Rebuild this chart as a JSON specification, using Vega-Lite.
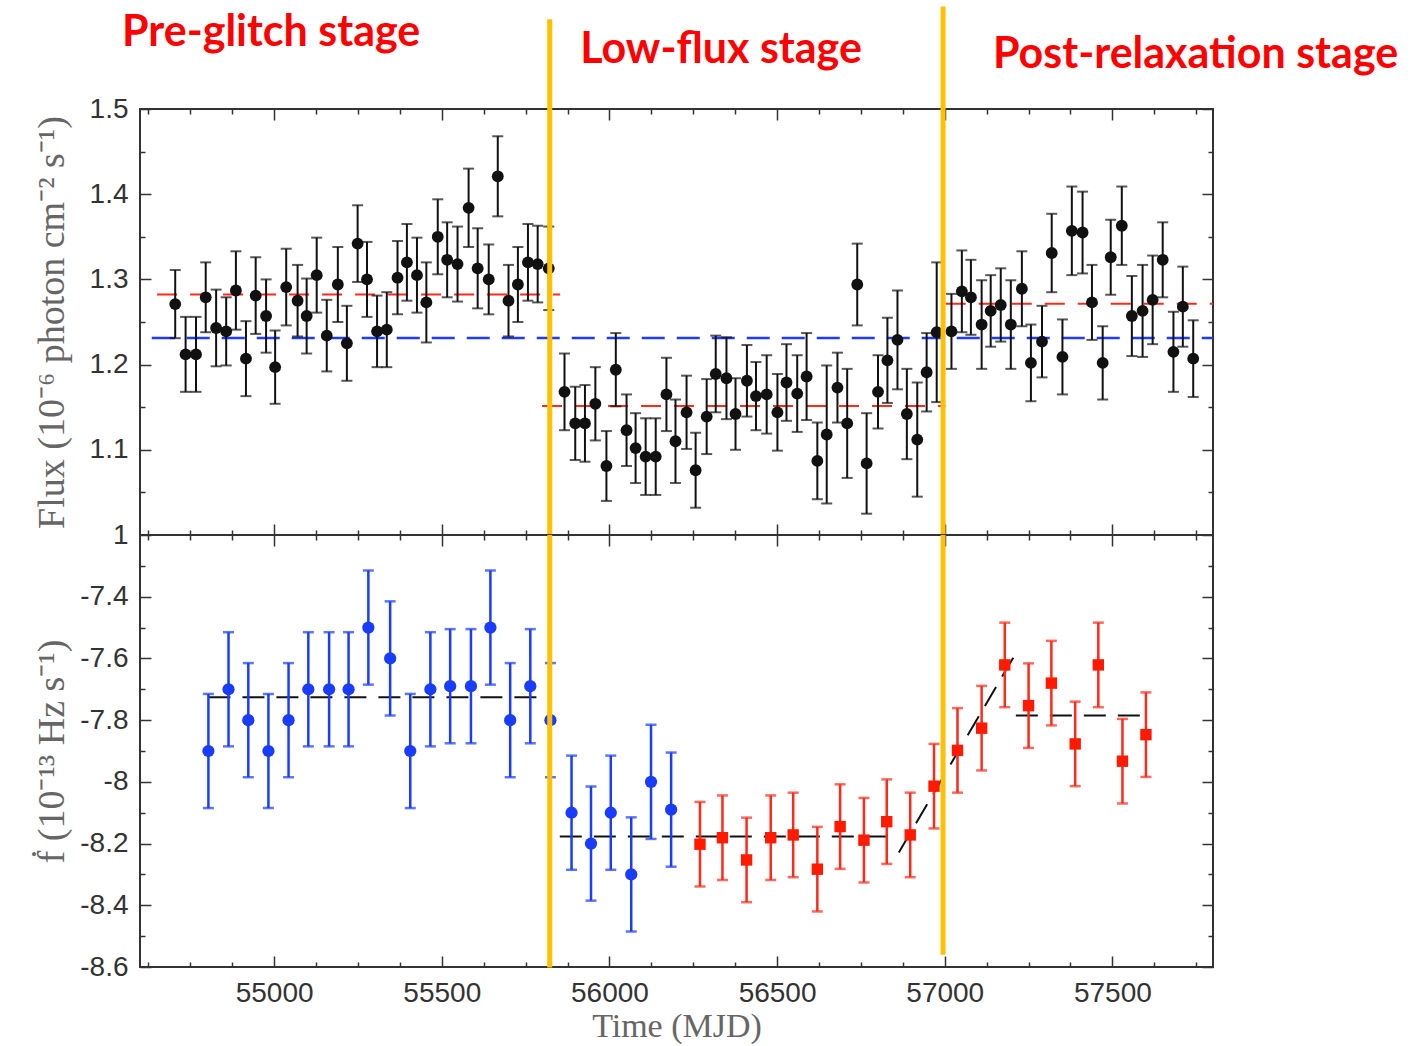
{
  "$schema": "https://vega.github.io/schema/vega-lite/v6.json",
  "background": "white",
  "padding": {"left": 32, "top": 2, "right": 0, "bottom": 0},
  "bounds": "flush",
  "spacing": 0,
  "config": {
    "view": {"stroke": "#333", "strokeWidth": 2},
    "axis": {
      "domain": false, "grid": false, "tickColor": "#333", "tickWidth": 1.5,
      "labelFont": "Liberation Sans", "labelFontSize": 28, "labelColor": "#333",
      "titleFont": "Liberation Serif", "titleFontSize": 38, "titleFontWeight": "normal", "titleColor": "#666",
      "labelFlush": false, "labelOverlap": false, "labelBound": false
    }
  },
  "datasets": {
    "flux": [
      {"t": 54705, "v": 1.271, "e": 0.040}, {"t": 54736, "v": 1.212, "e": 0.044}, {"t": 54767, "v": 1.212, "e": 0.044},
      {"t": 54796, "v": 1.279, "e": 0.041}, {"t": 54827, "v": 1.243, "e": 0.045}, {"t": 54857, "v": 1.239, "e": 0.040},
      {"t": 54886, "v": 1.287, "e": 0.046}, {"t": 54916, "v": 1.207, "e": 0.044}, {"t": 54945, "v": 1.281, "e": 0.045},
      {"t": 54976, "v": 1.257, "e": 0.043}, {"t": 55003, "v": 1.197, "e": 0.043}, {"t": 55036, "v": 1.291, "e": 0.045},
      {"t": 55070, "v": 1.275, "e": 0.042}, {"t": 55097, "v": 1.257, "e": 0.044}, {"t": 55127, "v": 1.305, "e": 0.044},
      {"t": 55157, "v": 1.234, "e": 0.042}, {"t": 55190, "v": 1.294, "e": 0.044}, {"t": 55217, "v": 1.225, "e": 0.044},
      {"t": 55249, "v": 1.342, "e": 0.045}, {"t": 55277, "v": 1.300, "e": 0.044}, {"t": 55307, "v": 1.239, "e": 0.042},
      {"t": 55336, "v": 1.241, "e": 0.044}, {"t": 55368, "v": 1.302, "e": 0.043}, {"t": 55396, "v": 1.320, "e": 0.045},
      {"t": 55426, "v": 1.305, "e": 0.044}, {"t": 55454, "v": 1.273, "e": 0.047}, {"t": 55488, "v": 1.350, "e": 0.044},
      {"t": 55516, "v": 1.323, "e": 0.044}, {"t": 55547, "v": 1.318, "e": 0.044}, {"t": 55580, "v": 1.384, "e": 0.046},
      {"t": 55607, "v": 1.313, "e": 0.047}, {"t": 55640, "v": 1.300, "e": 0.041}, {"t": 55667, "v": 1.421, "e": 0.047},
      {"t": 55699, "v": 1.275, "e": 0.042}, {"t": 55727, "v": 1.294, "e": 0.044}, {"t": 55757, "v": 1.320, "e": 0.045},
      {"t": 55786, "v": 1.318, "e": 0.045}, {"t": 55819, "v": 1.313, "e": 0.049},
      {"t": 55866, "v": 1.168, "e": 0.045}, {"t": 55898, "v": 1.131, "e": 0.043}, {"t": 55927, "v": 1.131, "e": 0.045},
      {"t": 55958, "v": 1.154, "e": 0.043}, {"t": 55991, "v": 1.081, "e": 0.041}, {"t": 56019, "v": 1.194, "e": 0.043},
      {"t": 56051, "v": 1.123, "e": 0.042}, {"t": 56078, "v": 1.102, "e": 0.041}, {"t": 56108, "v": 1.092, "e": 0.045},
      {"t": 56138, "v": 1.092, "e": 0.045}, {"t": 56170, "v": 1.165, "e": 0.043}, {"t": 56197, "v": 1.110, "e": 0.049},
      {"t": 56230, "v": 1.144, "e": 0.043}, {"t": 56257, "v": 1.076, "e": 0.044}, {"t": 56290, "v": 1.139, "e": 0.044},
      {"t": 56317, "v": 1.189, "e": 0.045}, {"t": 56349, "v": 1.184, "e": 0.048}, {"t": 56376, "v": 1.142, "e": 0.042},
      {"t": 56410, "v": 1.181, "e": 0.042}, {"t": 56437, "v": 1.163, "e": 0.040}, {"t": 56469, "v": 1.165, "e": 0.046},
      {"t": 56501, "v": 1.144, "e": 0.045}, {"t": 56528, "v": 1.179, "e": 0.045}, {"t": 56560, "v": 1.166, "e": 0.045},
      {"t": 56588, "v": 1.186, "e": 0.051}, {"t": 56620, "v": 1.087, "e": 0.045}, {"t": 56648, "v": 1.118, "e": 0.081},
      {"t": 56680, "v": 1.173, "e": 0.041}, {"t": 56709, "v": 1.131, "e": 0.064}, {"t": 56739, "v": 1.294, "e": 0.048},
      {"t": 56767, "v": 1.084, "e": 0.059}, {"t": 56801, "v": 1.168, "e": 0.043}, {"t": 56829, "v": 1.205, "e": 0.050},
      {"t": 56859, "v": 1.229, "e": 0.058}, {"t": 56887, "v": 1.142, "e": 0.053}, {"t": 56918, "v": 1.112, "e": 0.067},
      {"t": 56946, "v": 1.191, "e": 0.046}, {"t": 56976, "v": 1.238, "e": 0.082},
      {"t": 57020, "v": 1.239, "e": 0.044}, {"t": 57051, "v": 1.286, "e": 0.048}, {"t": 57078, "v": 1.279, "e": 0.044},
      {"t": 57110, "v": 1.247, "e": 0.052}, {"t": 57137, "v": 1.263, "e": 0.042}, {"t": 57167, "v": 1.270, "e": 0.043},
      {"t": 57197, "v": 1.247, "e": 0.052}, {"t": 57230, "v": 1.289, "e": 0.044}, {"t": 57257, "v": 1.202, "e": 0.045},
      {"t": 57290, "v": 1.227, "e": 0.042}, {"t": 57319, "v": 1.331, "e": 0.046}, {"t": 57351, "v": 1.209, "e": 0.044},
      {"t": 57379, "v": 1.357, "e": 0.052}, {"t": 57411, "v": 1.355, "e": 0.048}, {"t": 57439, "v": 1.273, "e": 0.044},
      {"t": 57471, "v": 1.202, "e": 0.043}, {"t": 57495, "v": 1.326, "e": 0.044}, {"t": 57528, "v": 1.363, "e": 0.046},
      {"t": 57558, "v": 1.257, "e": 0.047}, {"t": 57590, "v": 1.263, "e": 0.054}, {"t": 57620, "v": 1.276, "e": 0.052},
      {"t": 57650, "v": 1.323, "e": 0.044}, {"t": 57682, "v": 1.215, "e": 0.047}, {"t": 57710, "v": 1.268, "e": 0.047},
      {"t": 57741, "v": 1.207, "e": 0.045}
    ],
    "fluxStageMeans": [
      {"t1": 54651, "t2": 55853, "v": 1.2823},
      {"t1": 55799, "t2": 57002, "v": 1.1515},
      {"t1": 57003, "t2": 57800, "v": 1.2715}
    ],
    "fluxOverallMean": [{"t1": 54635, "t2": 57800, "v": 1.2312}],
    "stageLabels": [
      {"label": "Pre-glitch stage", "t": 54991, "v": 1.5735},
      {"label": "Low-flux stage", "t": 56333, "v": 1.5535},
      {"label": "Post-relaxation stage", "t": 57748, "v": 1.5477}
    ],
    "glitchTop": [
      {"t": 55822, "top": 1.6052, "bottom": 1.0},
      {"t": 56995, "top": 1.6204, "bottom": 1.0}
    ],
    "glitchBottom": [
      {"t": 55822, "top": -7.2, "bottom": -8.602},
      {"t": 56995, "top": -7.2, "bottom": -8.56}
    ],
    "fdotBlue": [
      {"t": 54804, "v": -7.90, "e": 0.185}, {"t": 54864, "v": -7.70, "e": 0.185}, {"t": 54923, "v": -7.80, "e": 0.185},
      {"t": 54983, "v": -7.90, "e": 0.185}, {"t": 55043, "v": -7.80, "e": 0.185}, {"t": 55102, "v": -7.70, "e": 0.185},
      {"t": 55164, "v": -7.70, "e": 0.185}, {"t": 55222, "v": -7.70, "e": 0.185}, {"t": 55281, "v": -7.50, "e": 0.185},
      {"t": 55346, "v": -7.60, "e": 0.185}, {"t": 55406, "v": -7.90, "e": 0.185}, {"t": 55466, "v": -7.70, "e": 0.185},
      {"t": 55525, "v": -7.69, "e": 0.185}, {"t": 55587, "v": -7.69, "e": 0.185}, {"t": 55645, "v": -7.50, "e": 0.185},
      {"t": 55704, "v": -7.80, "e": 0.185}, {"t": 55764, "v": -7.69, "e": 0.185}, {"t": 55824, "v": -7.80, "e": 0.185},
      {"t": 55887, "v": -8.10, "e": 0.185}, {"t": 55945, "v": -8.20, "e": 0.185}, {"t": 56004, "v": -8.10, "e": 0.185},
      {"t": 56065, "v": -8.30, "e": 0.185}, {"t": 56124, "v": -8.00, "e": 0.185}, {"t": 56184, "v": -8.09, "e": 0.185}
    ],
    "fdotRed": [
      {"t": 56270, "v": -8.202, "e": 0.137}, {"t": 56337, "v": -8.181, "e": 0.137}, {"t": 56409, "v": -8.253, "e": 0.137},
      {"t": 56481, "v": -8.181, "e": 0.137}, {"t": 56548, "v": -8.172, "e": 0.137}, {"t": 56620, "v": -8.283, "e": 0.137},
      {"t": 56688, "v": -8.145, "e": 0.137}, {"t": 56759, "v": -8.189, "e": 0.137}, {"t": 56827, "v": -8.129, "e": 0.137},
      {"t": 56897, "v": -8.172, "e": 0.137}, {"t": 56968, "v": -8.014, "e": 0.137}, {"t": 57038, "v": -7.898, "e": 0.137},
      {"t": 57110, "v": -7.826, "e": 0.137}, {"t": 57179, "v": -7.621, "e": 0.137}, {"t": 57250, "v": -7.753, "e": 0.137},
      {"t": 57318, "v": -7.680, "e": 0.137}, {"t": 57389, "v": -7.877, "e": 0.137}, {"t": 57458, "v": -7.621, "e": 0.137},
      {"t": 57530, "v": -7.933, "e": 0.137}, {"t": 57600, "v": -7.847, "e": 0.137}
    ],
    "fdotFits": [
      {"t1": 54804, "t2": 55814, "v1": -7.726, "v2": -7.726},
      {"t1": 55852, "t2": 56854, "v1": -8.177, "v2": -8.177},
      {"t1": 56863, "t2": 57211, "v1": -8.229, "v2": -7.585},
      {"t1": 57212, "t2": 57600, "v1": -7.785, "v2": -7.785}
    ]
  },
  "vconcat": [
    {
      "width": 1073,
      "height": 426,
      "resolve": {"axis": {"x": "independent", "y": "independent"}},
      "layer": [
        {
          "data": {"name": "fluxStageMeans"},
          "mark": {"type": "rule", "color": "#ff2a1a", "strokeWidth": 2, "strokeDash": [20, 13]},
          "encoding": {
            "x": {"field": "t1", "type": "quantitative", "scale": {"domain": [54600, 57800], "nice": false, "zero": false},
                  "axis": {"orient": "bottom", "values": [55000, 55500, 56000, 56500, 57000, 57500], "offset": -11, "tickSize": 11, "labels": false, "title": null}},
            "x2": {"field": "t2"},
            "y": {"field": "v", "type": "quantitative", "scale": {"domain": [1, 1.5], "nice": false, "zero": false},
                  "axis": {"orient": "left", "values": [1, 1.1, 1.2, 1.3, 1.4, 1.5], "offset": -11, "tickSize": 11, "labelPadding": 12, "labelExpr": "'' + datum.value", "title": "Flux (10⁻⁶ photon cm⁻² s⁻¹)", "titlePadding": 18}}
          }
        },
        {
          "data": {"name": "fluxOverallMean"},
          "mark": {"type": "rule", "color": "#1f3bff", "strokeWidth": 2.5, "strokeDash": [23, 12]},
          "encoding": {
            "x": {"field": "t1", "type": "quantitative", "scale": {"domain": [54600, 57800], "nice": false, "zero": false},
                  "axis": {"orient": "bottom", "values": [54625, 54750, 54875, 55125, 55250, 55375, 55625, 55750, 55875, 56125, 56250, 56375, 56625, 56750, 56875, 57125, 57250, 57375, 57625, 57750], "offset": -5, "tickSize": 5, "labels": false, "title": null}},
            "x2": {"field": "t2"},
            "y": {"field": "v", "type": "quantitative", "scale": {"domain": [1, 1.5], "nice": false, "zero": false},
                  "axis": {"orient": "left", "values": [1.05, 1.15, 1.25, 1.35, 1.45], "offset": -5, "tickSize": 5, "labels": false, "title": null}}
          }
        },
        {
          "data": {"name": "flux"},
          "mark": {"type": "errorbar", "ticks": true, "size": 11, "thickness": 2, "color": "#111"},
          "encoding": {
            "x": {"field": "t", "type": "quantitative", "scale": {"domain": [54600, 57800], "nice": false, "zero": false}, "axis": null},
            "y": {"field": "v", "type": "quantitative", "scale": {"domain": [1, 1.5], "nice": false, "zero": false}, "axis": null},
            "yError": {"field": "e"}
          }
        },
        {
          "data": {"name": "flux"},
          "mark": {"type": "circle", "size": 140, "color": "#111", "opacity": 1},
          "encoding": {
            "x": {"field": "t", "type": "quantitative", "scale": {"domain": [54600, 57800], "nice": false, "zero": false},
                  "axis": {"orient": "top", "values": [55000, 55500, 56000, 56500, 57000, 57500], "offset": -11, "tickSize": 11, "labels": false, "title": null}},
            "y": {"field": "v", "type": "quantitative", "scale": {"domain": [1, 1.5], "nice": false, "zero": false},
                  "axis": {"orient": "right", "values": [1, 1.1, 1.2, 1.3, 1.4, 1.5], "offset": -11, "tickSize": 11, "labels": false, "title": null}}
          }
        },
        {
          "data": {"name": "glitchTop"},
          "mark": {"type": "rule", "color": "#FFC000", "strokeWidth": 5},
          "encoding": {
            "x": {"field": "t", "type": "quantitative", "scale": {"domain": [54600, 57800], "nice": false, "zero": false},
                  "axis": {"orient": "top", "values": [54625, 54750, 54875, 55125, 55250, 55375, 55625, 55750, 55875, 56125, 56250, 56375, 56625, 56750, 56875, 57125, 57250, 57375, 57625, 57750], "offset": -5, "tickSize": 5, "labels": false, "title": null}},
            "y": {"field": "top", "type": "quantitative", "scale": {"domain": [1, 1.5], "nice": false, "zero": false},
                  "axis": {"orient": "right", "values": [1.05, 1.15, 1.25, 1.35, 1.45], "offset": -5, "tickSize": 5, "labels": false, "title": null}},
            "y2": {"field": "bottom"}
          }
        },
        {
          "data": {"name": "stageLabels"},
          "mark": {"type": "text", "font": "Lato", "fontWeight": "bold", "fontSize": 43, "color": "#ff0000", "align": "center", "baseline": "alphabetic"},
          "encoding": {
            "x": {"field": "t", "type": "quantitative", "scale": {"domain": [54600, 57800], "nice": false, "zero": false}, "axis": null},
            "y": {"field": "v", "type": "quantitative", "scale": {"domain": [1, 1.5], "nice": false, "zero": false}, "axis": null},
            "text": {"field": "label"}
          }
        }
      ]
    },
    {
      "width": 1073,
      "height": 432,
      "resolve": {"axis": {"x": "independent", "y": "independent"}},
      "layer": [
        {
          "data": {"name": "fdotFits"},
          "mark": {"type": "rule", "color": "#111", "strokeWidth": 2, "strokeDash": [22, 12]},
          "encoding": {
            "x": {"field": "t1", "type": "quantitative", "scale": {"domain": [54600, 57800], "nice": false, "zero": false},
                  "axis": {"orient": "bottom", "values": [55000, 55500, 56000, 56500, 57000, 57500], "offset": -11, "tickSize": 11, "labelPadding": 12, "labelExpr": "'' + datum.value", "title": "Time (MJD)", "titleFontSize": 34, "titlePadding": 2}},
            "x2": {"field": "t2"},
            "y": {"field": "v1", "type": "quantitative", "scale": {"domain": [-8.6, -7.2], "nice": false, "zero": false},
                  "axis": {"orient": "left", "values": [-8.6, -8.4, -8.2, -8, -7.8, -7.6, -7.4], "offset": -11, "tickSize": 11, "labelPadding": 12, "labelExpr": "'' + datum.value", "title": "ḟ (10⁻¹³ Hz s⁻¹)", "titlePadding": 8}},
            "y2": {"field": "v2"}
          }
        },
        {
          "data": {"name": "fdotBlue"},
          "mark": {"type": "errorbar", "ticks": true, "size": 11, "thickness": 2.5, "color": "#1a3cff"},
          "encoding": {
            "x": {"field": "t", "type": "quantitative", "scale": {"domain": [54600, 57800], "nice": false, "zero": false},
                  "axis": {"orient": "bottom", "values": [54625, 54750, 54875, 55125, 55250, 55375, 55625, 55750, 55875, 56125, 56250, 56375, 56625, 56750, 56875, 57125, 57250, 57375, 57625, 57750], "offset": -5, "tickSize": 5, "labels": false, "title": null}},
            "y": {"field": "v", "type": "quantitative", "scale": {"domain": [-8.6, -7.2], "nice": false, "zero": false},
                  "axis": {"orient": "left", "values": [-8.5, -8.3, -8.1, -7.9, -7.7, -7.5, -7.3], "offset": -5, "tickSize": 5, "labels": false, "title": null}},
            "yError": {"field": "e"}
          }
        },
        {
          "data": {"name": "fdotBlue"},
          "mark": {"type": "circle", "size": 150, "color": "#1a3cff", "opacity": 1},
          "encoding": {
            "x": {"field": "t", "type": "quantitative", "scale": {"domain": [54600, 57800], "nice": false, "zero": false},
                  "axis": {"orient": "top", "values": [55000, 55500, 56000, 56500, 57000, 57500], "offset": -11, "tickSize": 11, "labels": false, "title": null}},
            "y": {"field": "v", "type": "quantitative", "scale": {"domain": [-8.6, -7.2], "nice": false, "zero": false},
                  "axis": {"orient": "right", "values": [-8.6, -8.4, -8.2, -8, -7.8, -7.6, -7.4], "offset": -11, "tickSize": 11, "labels": false, "title": null}}
          }
        },
        {
          "data": {"name": "fdotRed"},
          "mark": {"type": "errorbar", "ticks": true, "size": 11, "thickness": 2.5, "color": "#ff2a1a"},
          "encoding": {
            "x": {"field": "t", "type": "quantitative", "scale": {"domain": [54600, 57800], "nice": false, "zero": false}, "axis": null},
            "y": {"field": "v", "type": "quantitative", "scale": {"domain": [-8.6, -7.2], "nice": false, "zero": false}, "axis": null},
            "yError": {"field": "e"}
          }
        },
        {
          "data": {"name": "fdotRed"},
          "mark": {"type": "square", "size": 130, "color": "#ff1a00", "opacity": 1},
          "encoding": {
            "x": {"field": "t", "type": "quantitative", "scale": {"domain": [54600, 57800], "nice": false, "zero": false},
                  "axis": {"orient": "top", "values": [54625, 54750, 54875, 55125, 55250, 55375, 55625, 55750, 55875, 56125, 56250, 56375, 56625, 56750, 56875, 57125, 57250, 57375, 57625, 57750], "offset": -5, "tickSize": 5, "labels": false, "title": null}},
            "y": {"field": "v", "type": "quantitative", "scale": {"domain": [-8.6, -7.2], "nice": false, "zero": false},
                  "axis": {"orient": "right", "values": [-8.5, -8.3, -8.1, -7.9, -7.7, -7.5, -7.3], "offset": -5, "tickSize": 5, "labels": false, "title": null}}
          }
        },
        {
          "data": {"name": "glitchBottom"},
          "mark": {"type": "rule", "color": "#FFC000", "strokeWidth": 5},
          "encoding": {
            "x": {"field": "t", "type": "quantitative", "scale": {"domain": [54600, 57800], "nice": false, "zero": false}, "axis": null},
            "y": {"field": "top", "type": "quantitative", "scale": {"domain": [-8.6, -7.2], "nice": false, "zero": false}, "axis": null},
            "y2": {"field": "bottom"}
          }
        }
      ]
    }
  ]
}
